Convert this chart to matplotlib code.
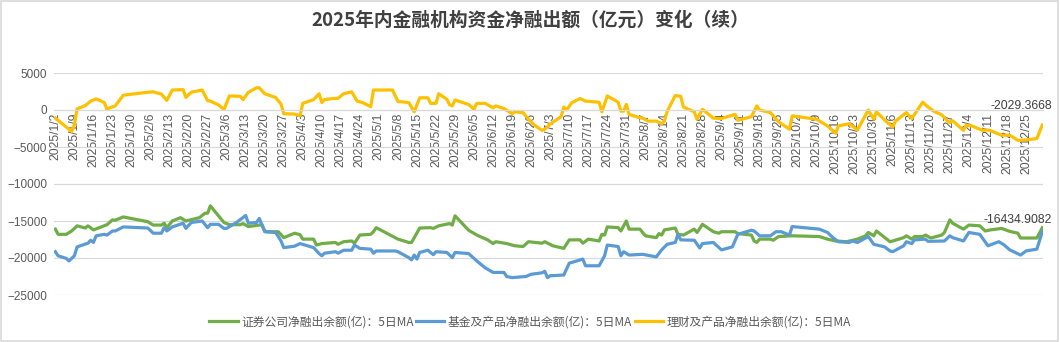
import matplotlib.pyplot as plt
from matplotlib.patches import Rectangle
import pandas as pd

plt.rcParams['font.family'] = ['Noto Sans CJK SC', 'DejaVu Sans']

# 证券公司净融出余额(亿)：5日MA
sec_dates = ["1/2", "1/3", "1/6", "1/8", "1/10", "1/13", "1/14", "1/16", "1/20", "1/21",
             "1/23", "1/24", "1/27", "2/5", "2/7", "2/10", "2/11", "2/12", "2/14", "2/17",
             "2/19", "2/24", "2/26", "2/27", "2/28", "3/5", "3/7", "3/11", "3/12", "3/14",
             "3/19", "3/20", "3/21", "3/25", "3/27", "3/31", "4/2", "4/3", "4/7", "4/8",
             "4/10", "4/15", "4/16", "4/18", "4/21", "4/22", "4/24", "4/28", "4/29", "4/30",
             "5/8", "5/12", "5/13", "5/14", "5/16", "5/20", "5/21", "5/23", "5/27", "5/28",
             "5/29", "6/3", "6/6", "6/10", "6/12", "6/13", "6/17", "6/20", "6/23", "6/25",
             "6/30", "7/1", "7/4", "7/8", "7/10", "7/14", "7/15", "7/17", "7/21", "7/22",
             "7/23", "7/24", "7/28", "7/29", "7/31", "8/1", "8/5", "8/7", "8/11", "8/12",
             "8/13", "8/14", "8/18", "8/19", "8/21", "8/25", "8/26", "8/28", "9/1", "9/3",
             "9/4", "9/9", "9/10", "9/15", "9/16", "9/17", "9/18", "9/22", "9/23", "9/25",
             "9/30", "10/10", "10/13", "10/16", "10/20", "10/24", "10/27", "10/28", "10/30", "10/31",
             "11/5", "11/6", "11/10", "11/11", "11/13", "11/14", "11/17", "11/18", "11/20", "11/24",
             "11/25", "11/27", "11/28", "12/2", "12/4", "12/8", "12/10", "12/12", "12/16", "12/19",
             "12/22", "12/23", "12/29", "12/31"]
sec_vals = [-16100, -16800, -16800, -16350, -15650, -15950, -15650, -16200, -15650, -15500,
            -14850, -14900, -14450, -15100, -15550, -15550, -15300, -15900, -15000, -14550,
            -15000, -14550, -13950, -13950, -12950, -15200, -15500, -15500, -15350, -15750,
            -15500, -16350, -16450, -16450, -17250, -16650, -16850, -17450, -17450, -18250,
            -18050, -17900, -18150, -17800, -17700, -18000, -16900, -16800, -16450, -15900,
            -17450, -17900, -17900, -17250, -15950, -15900, -16000, -15650, -15350, -15550,
            -14300, -16250, -16900, -17550, -18050, -17800, -18050, -18350, -18450, -17800,
            -18000, -17800, -18350, -18700, -17550, -17550, -18000, -17450, -17700, -16800,
            -16900, -15800, -15900, -16350, -15000, -16100, -16100, -17000, -17250, -16700,
            -16900, -16200, -15950, -16800, -16900, -16100, -16550, -15450, -16450, -16650,
            -16450, -16450, -16700, -16900, -17700, -17900, -17450, -17450, -17600, -17100,
            -17000, -17100, -17450, -17700, -17800, -17450, -17000, -16550, -17000, -16350,
            -17800, -17700, -17250, -17000, -17450, -17100, -17100, -16900, -17300, -16900,
            -16550, -14850, -15300, -16100, -15550, -15650, -16350, -16200, -16000, -16400,
            -16650, -17300, -17300, -15900]

# 基金及产品净融出余额(亿)：5日MA
fund_dates = ["1/2", "1/3", "1/6", "1/7", "1/9", "1/10", "1/14", "1/15", "1/16", "1/17",
              "1/20", "1/21", "1/23", "1/24", "1/27", "2/5", "2/7", "2/10", "2/11", "2/12",
              "2/14", "2/18", "2/19", "2/21", "2/25", "2/27", "2/28", "3/3", "3/5", "3/6",
              "3/10", "3/13", "3/14", "3/17", "3/18", "3/20", "3/24", "3/26", "3/27", "3/31",
              "4/2", "4/7", "4/9", "4/10", "4/11", "4/15", "4/16", "4/18", "4/21", "4/22",
              "4/24", "4/28", "4/29", "4/30", "5/7", "5/8", "5/12", "5/13", "5/14", "5/15",
              "5/16", "5/19", "5/21", "5/22", "5/26", "5/28", "5/29", "6/3", "6/6", "6/9",
              "6/12", "6/16", "6/17", "6/19", "6/24", "6/26", "6/30", "7/1", "7/2", "7/3",
              "7/8", "7/10", "7/15", "7/16", "7/21", "7/23", "7/24", "7/28", "7/29", "7/30",
              "8/1", "8/6", "8/11", "8/13", "8/15", "8/18", "8/19", "8/20", "8/25", "8/27",
              "8/28", "9/1", "9/4", "9/8", "9/10", "9/15", "9/16", "9/18", "9/22", "9/24",
              "9/26", "9/29", "9/30", "10/10", "10/13", "10/15", "10/17", "10/21", "10/22", "10/24",
              "10/27", "10/28", "10/30", "11/3", "11/5", "11/6", "11/10", "11/11", "11/13", "11/14",
              "11/18", "11/19", "11/25", "11/27", "11/28", "12/2", "12/4", "12/8", "12/11", "12/15",
              "12/17", "12/19", "12/23", "12/25", "12/29", "12/31"]
fund_vals = [-19150, -19700, -20050, -20400, -19700, -18500, -18000, -17600, -17900, -17000,
             -16800, -16900, -16350, -16350, -15800, -15950, -16650, -16650, -15900, -16350,
             -15800, -15300, -16000, -15200, -15000, -15900, -15450, -15450, -16000, -16000,
             -15100, -14250, -15300, -15200, -14650, -16450, -16550, -17700, -18600, -18400,
             -18050, -18600, -19400, -19700, -19350, -19150, -19350, -18950, -18950, -18250,
             -18700, -18800, -19350, -19050, -19050, -19150, -19950, -20250, -19600, -20150,
             -19250, -18950, -19550, -19150, -19250, -19950, -19250, -19400, -20400, -21300,
             -21950, -21950, -22500, -22650, -22500, -22200, -22000, -21800, -22650, -22400,
             -22300, -20700, -20150, -21050, -21050, -19700, -18250, -18450, -19700, -19150,
             -19600, -19500, -19850, -18900, -18150, -17900, -16800, -17550, -17600, -18650,
             -18050, -17900, -18900, -18500, -16800, -16250, -16350, -17000, -17000, -16450,
             -16450, -16900, -15750, -16100, -16550, -17250, -17800, -17900, -17700, -17900,
             -17300, -17100, -18150, -18500, -19050, -19150, -18350, -17800, -18050, -17550,
             -17450, -17750, -17700, -17000, -17250, -17700, -16550, -16800, -18350, -17800,
             -18250, -18900, -19600, -19050, -18800, -16434.9082]

# 理财及产品净融出余额(亿)：5日MA
wm_dates = ["1/2", "1/8", "1/9", "1/10", "1/13", "1/15", "1/17", "1/20", "1/21", "1/22",
            "1/24", "1/27", "2/5", "2/7", "2/10", "2/12", "2/14", "2/18", "2/19", "2/21",
            "2/25", "2/26", "2/27", "2/28", "3/3", "3/5", "3/7", "3/11", "3/12", "3/14",
            "3/17", "3/18", "3/20", "3/24", "3/26", "3/27", "3/31", "4/2", "4/3", "4/7",
            "4/9", "4/10", "4/11", "4/14", "4/16", "4/18", "4/21", "4/23", "4/25", "4/28",
            "4/29", "5/6", "5/8", "5/12", "5/14", "5/16", "5/19", "5/20", "5/22", "5/23",
            "5/26", "5/27", "5/28", "5/29", "6/3", "6/5", "6/6", "6/9", "6/12", "6/13",
            "6/16", "6/19", "6/20", "6/23", "6/25", "6/27", "6/30", "7/1", "7/3", "7/7",
            "7/8", "7/9", "7/11", "7/14", "7/16", "7/21", "7/22", "7/24", "7/28", "7/29",
            "7/30", "7/31", "8/1", "8/5", "8/6", "8/8", "8/11", "8/13", "8/14", "8/15",
            "8/18", "8/20", "8/21", "8/25", "8/26", "8/28", "9/1", "9/4", "9/9", "9/10",
            "9/15", "9/17", "9/18", "9/22", "9/25", "9/29", "9/30", "10/9", "10/13", "10/16",
            "10/17", "10/21", "10/24", "10/28", "10/30", "10/31", "11/4", "11/6", "11/7", "11/11",
            "11/13", "11/17", "11/19", "11/21", "11/24", "11/26", "11/27", "11/28", "12/2", "12/3",
            "12/5", "12/9", "12/11", "12/12", "12/16", "12/19", "12/22", "12/25", "12/29", "12/31"]
wm_vals = [-1100, -2900, -2000, 150, 600, 1200, 1500, 1000, 50, 300,
           550, 2000, 2400, 2450, 2150, 1300, 2700, 2750, 1700, 2400,
           2700, 2000, 1250, 1200, 700, 50, 1900, 1850, 1400, 2400,
           3000, 3000, 2200, 1700, 800, -500, -550, -800, 900, 1400,
           2200, 1000, 1400, 1550, 1575, 2200, 2450, 1200, 1000, 450,
           2700, 2700, 1150, 1000, -250, 1650, 1650, 900, 900, 2200,
           1450, 700, 550, 1350, 750, 100, 900, 900, 300, 550,
           200, -500, -250, -350, -1250, -2000, -2750, -2600, -1900, -900,
           400, 0, 1000, 1550, 1200, 1050, -250, 1900, 1050, -150,
           -150, 750, -600, -1050, -1100, -1500, -1500, -1850, -1500, -200,
           1950, 1850, 400, -250, -1250, 100, -1100, -1150, -600, -1400,
           -900, 550, 0, -350, -1600, -2600, -800, -1250, -2150, -3150,
           -2150, -1850, -2700, 0, -1250, -250, -1700, -2300, -1500, -350,
           -1150, 1050, 400, -150, -650, -1450, -1700, -1450, -2750, -2050,
           -2150, -2750, -2700, -2800, -3400, -3400, -4100, -4050, -3850, -2029.3668]

labels = ["证券公司净融出余额(亿)：5日MA", "基金及产品净融出余额(亿)：5日MA",
          "理财及产品净融出余额(亿)：5日MA"]
colors = ["#70AD47", "#5B9BD5", "#FFC000"]


def to_dt(lst):
    return pd.to_datetime(["2025/" + s for s in lst], format="%Y/%m/%d")


fig = plt.figure(figsize=(10.6, 3.42), dpi=100)
ax = fig.add_axes([54 / 1060, 47 / 342, (1043 - 54) / 1060, (295 - 73) / 342])

# move the category axis to y=0 first (this resets the tick objects)
for s in ['top', 'right', 'left']:
    ax.spines[s].set_visible(False)
ax.spines['bottom'].set_position(('data', 0))
ax.spines['bottom'].set_color("#d9d9d9")

series = [(sec_dates, sec_vals), (fund_dates, fund_vals), (wm_dates, wm_vals)]
for (d, v), lab, c in zip(series, labels, colors):
    ax.plot(to_dt(d), v, color=c, lw=2.3, label=lab, solid_joinstyle='round')

ax.set_ylim(-25000, 5000)
ax.set_yticks(range(-25000, 5001, 5000))
ax.set_xlim(pd.Timestamp("2025-01-01 12:00"), pd.Timestamp("2025-12-31 06:00"))
ticks = pd.date_range("2025-01-02", "2025-12-25", freq="7D")
ax.set_xticks(ticks)
ax.set_xticklabels([f"{t.year}/{t.month}/{t.day}" for t in ticks])
ax.tick_params(axis='x', length=0, pad=2, labelrotation=90, labelsize=8.7,
               labelcolor="#595959")
ax.tick_params(axis='y', labelsize=8.5, labelcolor="#595959", length=0, pad=5)
for t in ax.get_xticklabels() + ax.get_yticklabels():
    t.set_family("Liberation Sans")
ax.grid(axis='y', color="#d9d9d9", lw=0.9)
ax.set_axisbelow(True)

# end-point labels
ax.annotate("-2029.3668", (pd.Timestamp("2025-12-31"), wm_vals[-1]), xytext=(7, 14),
            textcoords='offset points', ha='right', va='center', fontsize=8.7,
            color="#404040", family="Liberation Sans")
ax.annotate("-16434.9082", (pd.Timestamp("2025-12-31"), fund_vals[-1]), xytext=(7, 8.5),
            textcoords='offset points', ha='right', va='center', fontsize=8.7,
            color="#404040", family="Liberation Sans")

fig.text(0.5, 1 - 20 / 342, "2025年内金融机构资金净融出额（亿元）变化（续）",
         ha='center', va='center', fontsize=13.5, fontweight='bold', color="#404040")
fig.legend(loc='center', bbox_to_anchor=(0.5, 20 / 342), ncol=3, frameon=False,
           fontsize=8.5, handlelength=2.4, handletextpad=0.3, columnspacing=0.2,
           labelcolor="#595959")

fig.patches.append(Rectangle((0.001, 0.003), 0.997, 0.994, transform=fig.transFigure,
                             fill=False, edgecolor="#d9d9d9", lw=1.2))

fig.savefig("out.png", dpi=100, facecolor="white")
